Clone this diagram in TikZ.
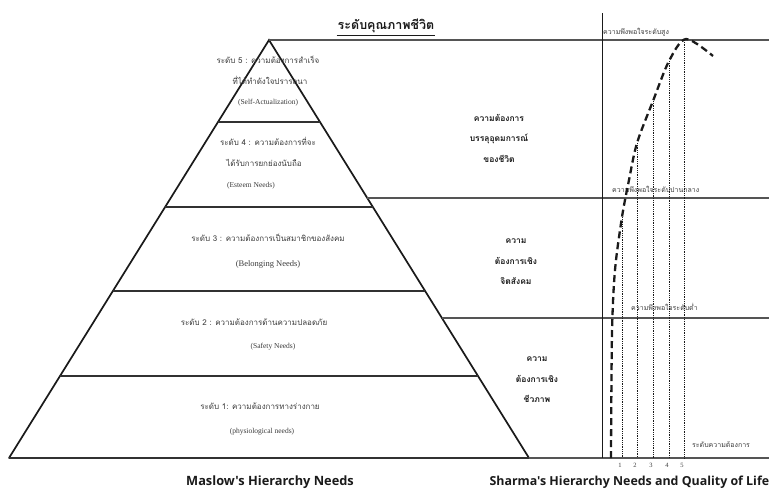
\documentclass[tikz,border=0pt]{standalone}
\usepackage{fontspec}
\setmainfont{Liberation Serif}
\newfontfamily\thaifont[Script=Thai]{Loma}
\newfontfamily\capfont{Open Sans}
\usetikzlibrary{calc, positioning}
\definecolor{ink}{HTML}{1A1A1A}
\definecolor{soft}{HTML}{3C3C3C}
\definecolor{rulegray}{HTML}{555555}
\tikzset{
  levelT/.style={font=\thaifont\fontsize{8}{9}\selectfont, text=soft, inner sep=1pt},
  levelE/.style={font=\fontsize{7.5}{9}\selectfont, text=soft, inner sep=1pt},
  needT/.style={font=\thaifont\bfseries\fontsize{8.5}{20.5}\selectfont,
                align=center, text=ink, inner sep=1pt},
  satT/.style={font=\thaifont\fontsize{7}{8}\selectfont, text=soft,
               inner sep=1pt, anchor=west},
  caption/.style={font=\capfont\bfseries\fontsize{12.8}{14}\selectfont, text=ink},
  pyrside/.style={line width=1.7pt, draw=ink, line cap=round},
  levelline/.style={line width=2.3pt, draw=ink!90},
  gridline/.style={line width=1.1pt, draw=rulegray},
  curveline/.style={line width=2.3pt, dash pattern=on 7pt off 4pt, draw=ink},
  dropline/.style={densely dotted, line width=0.8pt, draw=ink},
}

\begin{document}
\begin{tikzpicture}[x=1pt, y=-1pt]
  \clip (0,0) rectangle (769,488);
  \fill[white] (0,0) rectangle (769,488);

  %% Pyramid
  \coordinate (apex) at (269,40);
  \coordinate (bl) at (9,458);
  \coordinate (br) at (529,458);
  \coordinate (rEnd) at (769,0);
  \draw[pyrside] (bl) -- (apex) -- (br);
  \draw[levelline] (bl) -- (br);
  \foreach \t in {0.196, 0.4, 0.6, 0.804}{
    \draw[levelline] ($(apex)!\t!(bl)$) -- ($(apex)!\t!(br)$);
  }

  %% Levels of the right-hand bands
  \coordinate (s1) at ($(apex)!0.378!(br)$);
  \coordinate (s2) at ($(apex)!0.665!(br)$);
  \draw[gridline] (apex) -- (apex -| rEnd);
  \draw[gridline] (s1) -- (s1 -| rEnd);
  \draw[gridline] (s2) -- (s2 -| rEnd);
  \draw[gridline] (br) -- (br -| rEnd);

  %% Title
  \node[font=\thaifont\bfseries\fontsize{12.5}{14}\selectfont, text=ink,
        inner sep=1pt] (title) at (386,26) {ระดับคุณภาพชีวิต};
  \draw[ink, line width=0.8pt] ([yshift=-1pt]title.south west) -- ([yshift=-1pt]title.south east);

  %% Maslow levels
  \node[levelT] (l5a) at (268,60) {ระดับ 5 : ความต้องการสำเร็จ};
  \node[levelT] (l5b) at (270,80) {ที่ได้ทำดังใจปรารถนา};
  \node[levelE] (l5c) at (268,103) {(Self-Actualization)};
  \node[levelT] (l4a) at (268,141) {ระดับ 4 : ความต้องการที่จะ};
  \node[levelT] (l4b) at (264,163) {ได้รับการยกย่องนับถือ};
  \node[levelE] (l4c) at (251,186) {(Esteem Needs)};
  \node[levelT] (l3a) at (268,238) {ระดับ 3 : ความต้องการเป็นสมาชิกของสังคม};
  \node[levelE, font=\fontsize{8.5}{10}\selectfont] (l3b) at (268,264) {(Belonging Needs)};
  \node[levelT] (l2a) at (254,322) {ระดับ 2 : ความต้องการด้านความปลอดภัย};
  \node[levelE] (l2b) at (273,347) {(Safety Needs)};
  \node[levelT] (l1a) at (260,406) {ระดับ 1: ความต้องการทางร่างกาย};
  \node[levelE] (l1b) at (262,432) {(physiological needs)};

  %% Sharma needs
  \node[needT] (ideal) at (499,138) {ความต้องการ\\บรรลุอุดมการณ์\\ของชีวิต};
  \node[needT] (psycho) at (516,262) {ความ\\ต้องการเชิง\\จิตสังคม};
  \node[needT] (bio) at (537,380) {ความ\\ต้องการเชิง\\ชีวภาพ};

  %% Quality-of-life chart
  \coordinate (axTop) at (602,13);
  \draw[line width=1pt, draw=ink] (axTop) -- (axTop |- br);
  \node[satT] (high) at (602,32) {ความพึงพอใจระดับสูง};
  \node[satT] (mid) at (611,189) {ความพึงพอใจระดับปานกลาง};
  \node[satT] (low) at (630,307) {ความพึงพอใจระดับต่ำ};
  \node[satT] (needaxis) at (691,445) {ระดับความต้องการ};

  \foreach \x/\y/\n in {622/217/1, 637/143/2, 653/101/3, 669/61/4, 684/40/5}{
    \coordinate (c\n) at (\x,\y);
    \draw[dropline] (c\n) -- (c\n |- br);
    \node[font=\fontsize{6.5}{7}\selectfont, text=soft, inner sep=1pt]
      (n\n) at (\x-2,465) {\n};
  }
  \draw[curveline] plot[smooth, tension=0.5] coordinates
    {(611,458) (612,333) (615,270) (c1) (629,180) (c2) (c3) (c4) (686,39) (713,56)};

  %% Captions
  \node[caption] (maslow) at (270,482) {Maslow's Hierarchy Needs};
  \node[caption, font=\capfont\bfseries\fontsize{12.4}{14}\selectfont, anchor=west]
    (sharma) at (486,482) {Sharma's Hierarchy Needs and Quality of Life};
\end{tikzpicture}
\end{document}
